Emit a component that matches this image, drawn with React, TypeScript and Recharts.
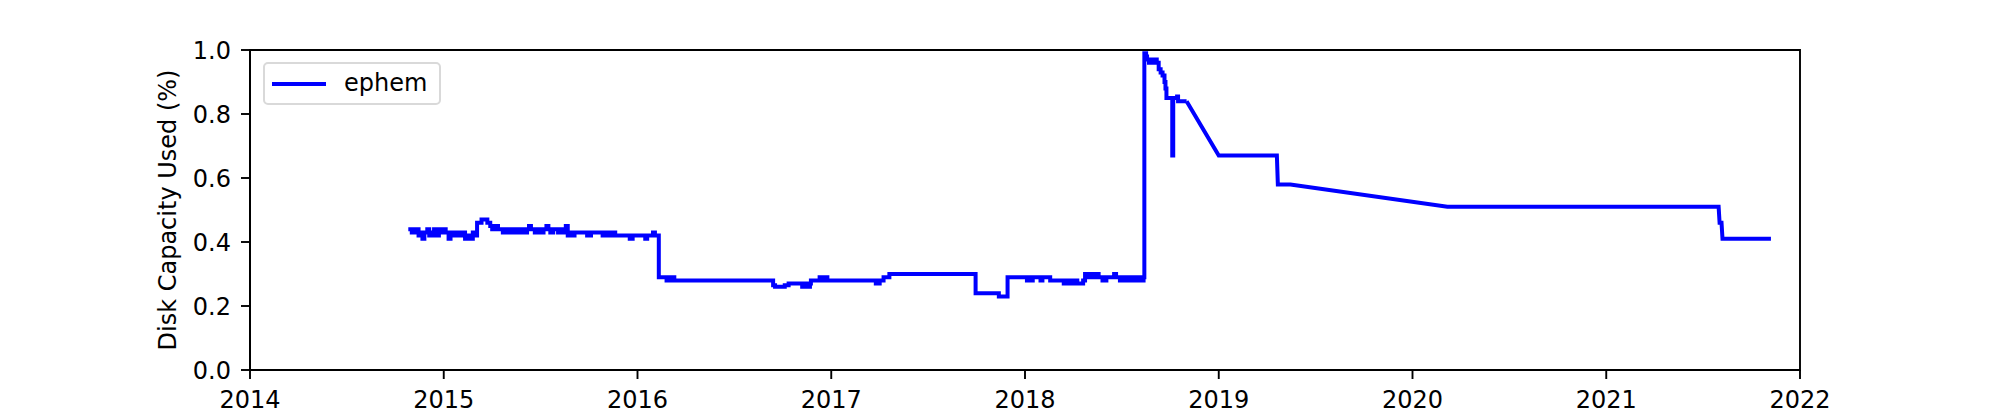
import React from 'react';
import { LineChart, Line, XAxis, YAxis, Legend, ReferenceArea } from 'recharts';

const years: number[] = [
  2014.817, 2014.83, 2014.835, 2014.845, 2014.85, 2014.86, 2014.87, 2014.88, 2014.89, 2014.9,
  2014.915, 2014.925, 2014.94, 2014.95, 2014.96, 2014.975, 2014.985, 2015.0, 2015.01, 2015.025,
  2015.035, 2015.05, 2015.065, 2015.08, 2015.095, 2015.11, 2015.12, 2015.135, 2015.15, 2015.16,
  2015.17, 2015.172, 2015.19, 2015.195, 2015.215, 2015.225, 2015.235, 2015.24, 2015.25, 2015.262,
  2015.265, 2015.275, 2015.28, 2015.3, 2015.305, 2015.315, 2015.33, 2015.335, 2015.345, 2015.36,
  2015.375, 2015.39, 2015.4, 2015.415, 2015.43, 2015.44, 2015.45, 2015.47, 2015.48, 2015.495,
  2015.5, 2015.515, 2015.53, 2015.54, 2015.55, 2015.565, 2015.58, 2015.59, 2015.6, 2015.615,
  2015.625, 2015.63, 2015.64, 2015.65, 2015.66, 2015.675, 2015.69, 2015.72, 2015.74, 2015.76,
  2015.8, 2015.82, 2015.835, 2015.85, 2015.865, 2015.88, 2015.885, 2015.9, 2015.95, 2015.96,
  2015.975, 2016.0, 2016.02, 2016.04, 2016.05, 2016.07, 2016.08, 2016.09, 2016.105,
  2016.11, 2016.14, 2016.15, 2016.16, 2016.17, 2016.18, 2016.19, 2016.69, 2016.7, 2016.71,
  2016.76, 2016.78, 2016.84, 2016.85, 2016.87, 2016.88, 2016.89, 2016.895, 2016.93, 2016.94,
  2016.95, 2016.97, 2016.98, 2017.22, 2017.23, 2017.25, 2017.27, 2017.29, 2017.3, 2017.74,
  2017.745, 2017.86, 2017.865, 2017.905, 2017.91, 2018.0, 2018.01, 2018.02, 2018.03, 2018.04,
  2018.07, 2018.08, 2018.09, 2018.12, 2018.13, 2018.19, 2018.2, 2018.22, 2018.24, 2018.26,
  2018.27, 2018.29, 2018.3, 2018.31, 2018.32, 2018.33, 2018.35, 2018.36, 2018.38, 2018.4,
  2018.42, 2018.45, 2018.46, 2018.47, 2018.49, 2018.5, 2018.52, 2018.54, 2018.56, 2018.58,
  2018.6, 2018.612, 2018.616,
  2018.62, 2018.625, 2018.63, 2018.64, 2018.65, 2018.66, 2018.67, 2018.675, 2018.68, 2018.69,
  2018.7, 2018.71, 2018.72, 2018.725, 2018.73, 2018.755, 2018.76, 2018.765, 2018.78, 2018.785,
  2018.79, 2018.81, 2018.834, 2019.0, 2019.3, 2019.305, 2019.37, 2020.18, 2021.58, 2021.585,
  2021.595, 2021.6, 2021.85,
];

const capacity: number[] = [
  0.44, 0.44, 0.43, 0.44, 0.43, 0.44, 0.42, 0.43, 0.41, 0.43,
  0.44, 0.42, 0.43, 0.44, 0.42, 0.44, 0.43, 0.44, 0.43, 0.41,
  0.43, 0.42, 0.43, 0.42, 0.43, 0.41, 0.42, 0.41, 0.43, 0.42,
  0.42, 0.46, 0.46, 0.47, 0.47, 0.46, 0.46, 0.45, 0.44, 0.44,
  0.45, 0.45, 0.44, 0.44, 0.43, 0.44, 0.44, 0.43, 0.44, 0.43,
  0.44, 0.43, 0.44, 0.43, 0.44, 0.45, 0.44, 0.43, 0.44, 0.44,
  0.43, 0.44, 0.45, 0.44, 0.43, 0.44, 0.44, 0.43, 0.44, 0.43,
  0.44, 0.45, 0.42, 0.43, 0.42, 0.43, 0.43, 0.43, 0.42, 0.43,
  0.43, 0.42, 0.43, 0.42, 0.43, 0.43, 0.42, 0.42, 0.42, 0.41,
  0.42, 0.42, 0.42, 0.41, 0.42, 0.42, 0.43, 0.42, 0.42,
  0.29, 0.29, 0.28, 0.29, 0.28, 0.29, 0.28, 0.28, 0.265, 0.26,
  0.265, 0.27, 0.27, 0.26, 0.27, 0.26, 0.27, 0.28, 0.28, 0.29,
  0.28, 0.29, 0.28, 0.28, 0.27, 0.28, 0.29, 0.29, 0.3, 0.3,
  0.24, 0.24, 0.23, 0.23, 0.29, 0.29, 0.28, 0.29, 0.28, 0.29,
  0.29, 0.28, 0.29, 0.29, 0.28, 0.28, 0.27, 0.28, 0.27, 0.28,
  0.27, 0.27, 0.28, 0.3, 0.29, 0.3, 0.29, 0.3, 0.29, 0.28,
  0.29, 0.29, 0.3, 0.29, 0.28, 0.29, 0.28, 0.29, 0.28, 0.29,
  0.28, 0.29, 0.99,
  0.99, 0.98, 0.97, 0.96, 0.97, 0.96, 0.96, 0.97, 0.96, 0.94,
  0.93, 0.92, 0.9, 0.88, 0.85, 0.85, 0.67, 0.85, 0.85, 0.855,
  0.84, 0.84, 0.84, 0.67, 0.67, 0.58, 0.58, 0.51, 0.51, 0.46,
  0.46, 0.41, 0.41,
];

// samples up to this date change in steps; after it they are joined by straight lines
const linearFrom = 2018.834;

const xTicks: number[] = [2014, 2015, 2016, 2017, 2018, 2019, 2020, 2021, 2022];
const yTicks: number[] = [0, 0.2, 0.4, 0.6, 0.8, 1.0];
const seriesName = 'ephem';
const yLabel = 'Disk Capacity Used (%)';

const data = years.map((t, i) => ({
  t,
  stepped: t <= linearFrom ? capacity[i] : null,
  joined: t >= linearFrom ? capacity[i] : null,
}));

const FONT = 'DejaVu Sans, sans-serif';
const FS = 24;
const BLUE = '#0000ff';

const LegendBox = () => (
  <div
    style={{
      width: 178,
      height: 43,
      boxSizing: 'border-box',
      border: '2px solid #d9d9d9',
      borderRadius: 5,
      background: '#fff',
      position: 'relative',
      fontFamily: FONT,
      fontSize: FS,
      color: '#000',
    }}
  >
    <div
      style={{
        position: 'absolute',
        left: 7,
        top: 18,
        width: 54,
        height: 4,
        background: BLUE,
      }}
    />
    <span style={{ position: 'absolute', left: 79, top: 5, lineHeight: '28px', whiteSpace: 'nowrap' }}>
      {seriesName}
    </span>
  </div>
);

export default function App() {
  return (
    <div style={{ position: 'absolute', left: 0, top: 0, background: '#fff' }}>
      <LineChart
        width={2000}
        height={416}
        data={data}
        margin={{ top: 50, right: 200, bottom: 0, left: 0 }}
      >
        <XAxis
          dataKey="t"
          type="number"
          domain={[2014, 2022]}
          ticks={xTicks}
          interval={0}
          allowDataOverflow
          height={46}
          tickSize={9}
          tickMargin={12}
          axisLine={{ stroke: '#000', strokeWidth: 1.9 }}
          tickLine={{ stroke: '#000', strokeWidth: 1.9 }}
          tick={{ fill: '#000', fontSize: FS, fontFamily: FONT }}
          tickFormatter={(v: number) => String(Math.round(v))}
        />
        <YAxis
          type="number"
          domain={[0, 1]}
          ticks={yTicks}
          interval={0}
          allowDataOverflow
          width={250}
          tickSize={9}
          tickMargin={10}
          axisLine={{ stroke: '#000', strokeWidth: 1.9 }}
          tickLine={{ stroke: '#000', strokeWidth: 1.9 }}
          tick={{ fill: '#000', fontSize: FS, fontFamily: FONT }}
          tickFormatter={(v: number) => v.toFixed(1)}
          label={{
            value: yLabel,
            angle: -90,
            position: 'center',
            dx: 42,
            style: { fill: '#000', fontSize: FS, fontFamily: FONT, textAnchor: 'middle' },
          }}
        />
        <ReferenceArea
          x1={2014}
          x2={2022}
          y1={0}
          y2={1}
          fill="none"
          stroke="#000"
          strokeWidth={1.9}
          ifOverflow="visible"
        />
        <Line
          type="stepAfter"
          dataKey="stepped"
          name={seriesName}
          stroke={BLUE}
          strokeWidth={4}
          dot={false}
          connectNulls={false}
          isAnimationActive={false}
        />
        <Line
          type="linear"
          dataKey="joined"
          name={seriesName}
          stroke={BLUE}
          strokeWidth={4}
          dot={false}
          connectNulls={false}
          legendType="none"
          isAnimationActive={false}
        />
        <Legend
          layout="horizontal"
          verticalAlign="middle"
          align="center"
          wrapperStyle={{ left: 263, top: 62, width: 178, height: 43 }}
          content={() => <LegendBox />}
        />
      </LineChart>
    </div>
  );
}
